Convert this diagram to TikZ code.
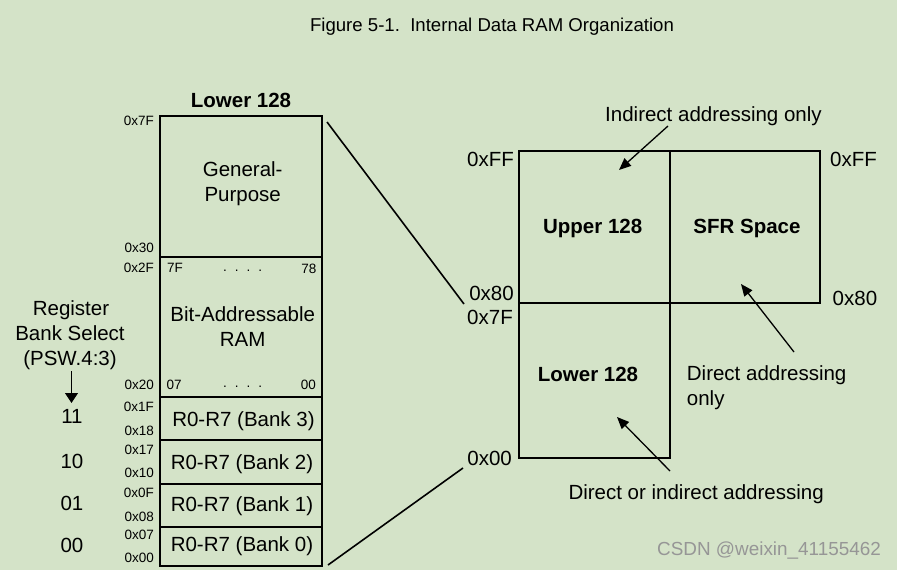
\documentclass[tikz,border=0pt]{standalone}
\usepackage{fontspec}
\setmainfont{Liberation Sans}
\usetikzlibrary{arrows.meta}
\definecolor{bg}{RGB}{212,227,200}
\definecolor{wm}{RGB}{150,150,150}
\begin{document}
\begin{tikzpicture}[x=1pt,y=-1pt,
  cell/.style 2 args={draw,line width=2pt,minimum width=#1,minimum height=#2,inner sep=0pt},
  big/.style={font=\fontsize{20.5}{24}\selectfont,inner sep=0pt,anchor=base},
  bbig/.style={font=\fontsize{20.5}{24}\selectfont\bfseries,inner sep=0pt,anchor=base},
  sm/.style={font=\fontsize{13.5}{16}\selectfont,inner sep=0pt,anchor=base},
  addr/.style={sm,anchor=base east},
  conn/.style={line width=1.6pt},
  pointer/.style={line width=1.3pt,-{Triangle[length=12pt,width=10pt]}}]
\fill[bg] (0,0) rectangle (897,570);
\useasboundingbox (0,0) rectangle (897,570);

% title
\node[font=\fontsize{18.6}{22}\selectfont,inner sep=0pt,anchor=base] (title) at (492,31) {Figure 5-1.\ \ Internal Data RAM Organization};

% left column: lower 128 detail
\node[bbig] (lowhdr) at (241,107.5) {Lower 128};
\node[cell={162pt}{141pt}] (gp) at (241,186.5) {};
\node[cell={162pt}{140pt}] (ba) at (241,327) {};
\node[cell={162pt}{43pt}] (b3) at (241,418.5) {};
\node[cell={162pt}{44pt}] (b2) at (241,462) {};
\node[cell={162pt}{43pt}] (b1) at (241,505.5) {};
\node[cell={162pt}{39pt}] (b0) at (241,546.5) {};

\node[big] (gpa) at (242.7,176.7) {General-};
\node[big] (gpb) at (242.7,201.7) {Purpose};
\node[big] (baa) at (242.7,321.7) {Bit-Addressable};
\node[big] (bab) at (242.7,346.7) {RAM};
\node[big] (t3) at (243.5,426.7) {R0-R7 (Bank 3)};
\node[big] (t2) at (242,469.3) {R0-R7 (Bank 2)};
\node[big] (t1) at (242,511) {R0-R7 (Bank 1)};
\node[big] (t0) at (242,551.7) {R0-R7 (Bank 0)};

\node[sm,anchor=base west] (b7f) at (167,272.7) {7F};
\node[sm] (bdots1) at (242.7,271) {.\hspace{8pt}.\hspace{8pt}.\hspace{8pt}.};
\node[sm,anchor=base east] (b78) at (316.5,273) {78};
\node[sm,anchor=base west] (b07) at (166.5,389.3) {07};
\node[sm] (bdots2) at (242.7,387.6) {.\hspace{8pt}.\hspace{8pt}.\hspace{8pt}.};
\node[sm,anchor=base east] (b00) at (316,389.3) {00};

\node[addr] (a7f) at (154,125.7) {0x7F};
\node[addr] (a30) at (154,252.3) {0x30};
\node[addr] (a2f) at (154,272.7) {0x2F};
\node[addr] (a20) at (154,389.3) {0x20};
\node[addr] (a1f) at (154,411.7) {0x1F};
\node[addr] (a18) at (154,435) {0x18};
\node[addr] (a17) at (154,454) {0x17};
\node[addr] (a10) at (154,477.3) {0x10};
\node[addr] (a0f) at (154,497.7) {0x0F};
\node[addr] (a08) at (154,521.7) {0x08};
\node[addr] (a07) at (154,539.3) {0x07};
\node[addr] (a00) at (154,562.3) {0x00};

% register bank select
\node[big] (rs1) at (71,315) {Register};
\node[big] (rs2) at (70,340) {Bank Select};
\node[big] (rs3) at (70,365) {(PSW.4:3)};
\node[big] (r11) at (72,423.3) {11};
\node[big] (r10) at (72,468.3) {10};
\node[big] (r01) at (72,510.7) {01};
\node[big] (r00) at (72,552.3) {00};
\coordinate (rsa) at (71.5,371);
\coordinate (rsb) at (71.5,403);
\draw[line width=1.3pt,-{Triangle[length=10pt,width=13pt]}] (rsa) -- (rsb);

% right: overall map
\node[cell={151pt}{152pt}] (up) at (594.5,227) {};
\node[cell={150pt}{152pt}] (sfr) at (745,227) {};
\node[cell={151pt}{155pt}] (lo) at (594.5,380.5) {};

\node[bbig] (upt) at (592.7,233.3) {Upper 128};
\node[bbig] (sfrt) at (747,233.3) {SFR Space};
\node[bbig] (lot) at (588,381) {Lower 128};

\node[big,anchor=base east] (rff) at (514,166) {0xFF};
\node[big,anchor=base west] (rff2) at (830,166) {0xFF};
\node[big,anchor=base east] (r80) at (514,300.7) {0x80};
\node[big,anchor=base west] (r802) at (832.5,305) {0x80};
\node[big,anchor=base east] (r7f) at (513,324) {0x7F};
\node[big,anchor=base east] (r00x) at (512,465) {0x00};

\node[big,anchor=base west] (ind) at (605,121.7) {Indirect addressing only};
\node[big,anchor=base west] (dir1) at (686.7,380) {Direct addressing};
\node[big,anchor=base west] (dir2) at (686.7,405) {only};
\node[big,anchor=base west] (dori) at (568.3,499.3) {Direct or indirect addressing};

\coordinate (ia) at (668,126);
\coordinate (ib) at (619,170);
\draw[pointer] (ia) -- (ib);
\coordinate (da) at (794,352);
\coordinate (db) at (741,284);
\draw[pointer] (da) -- (db);
\coordinate (la) at (670,471);
\coordinate (lb) at (617,417);
\draw[pointer] (la) -- (lb);

% connectors between the two maps
\coordinate (c1a) at (327,122);
\coordinate (c1b) at (464,304);
\draw[conn] (c1a) -- (c1b);
\coordinate (c2a) at (328,565);
\coordinate (c2b) at (463,468);
\draw[conn] (c2a) -- (c2b);

% watermark
\node[font=\fontsize{18.9}{22}\selectfont,text=wm,inner sep=0pt,anchor=base west] (wmk) at (657,555) {CSDN @weixin\_41155462};
\end{tikzpicture}
\end{document}
